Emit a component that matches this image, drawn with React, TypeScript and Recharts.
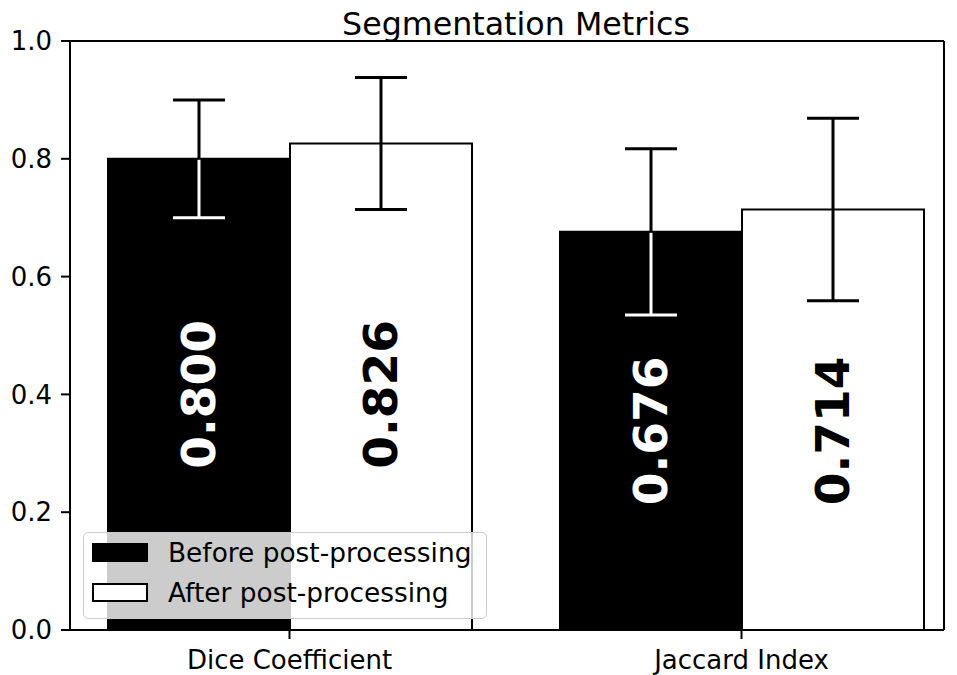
import React from "react";
import { BarChart, Bar, XAxis, YAxis, ErrorBar, LabelList } from "recharts";

const FONT = "'DejaVu Sans', sans-serif";

const categories = ["Dice Coefficient", "Jaccard Index"];
const beforeValues = [0.8, 0.676];
const afterValues = [0.826, 0.714];
const beforeErrors = [0.1, 0.141];
const afterErrors = [0.112, 0.155];
const yTicks = [0, 0.2, 0.4, 0.6, 0.8, 1.0];

const SERIES = [
  { key: "before", err: "beforeErr", errs: beforeErrors, name: "Before post-processing", fill: "#000000", text: "#ffffff" },
  { key: "after", err: "afterErr", errs: afterErrors, name: "After post-processing", fill: "#ffffff", text: "#000000" },
];

const data = categories.map((name, i) => ({
  name,
  before: beforeValues[i],
  after: afterValues[i],
  beforeErr: beforeErrors[i],
  afterErr: afterErrors[i],
}));

const spine = { stroke: "#000", strokeWidth: 2 };

// value text, centred on half the lower bar of the group; on a dark bar the
// part of the error bar that sits inside the bar is redrawn in white
const valueLabel = (s: (typeof SERIES)[number]) => (props: any) => {
  const { x, y, width, height, value, index } = props;
  const v = Number(value);
  const bottom = Number(y) + Number(height);
  const perUnit = Number(height) / v;
  const cx = Number(x) + Number(width) / 2;
  const groupMin = Math.min(beforeValues[index], afterValues[index]);
  const cy = bottom - perUnit * (groupMin / 2);
  const dark = s.fill === "#000000";
  const lowY = bottom - perUnit * (v - s.errs[index]);
  return (
    <g>
      {dark && (
        <g stroke="#fff" strokeWidth={3}>
          <line x1={cx} x2={cx} y1={Number(y) + 1} y2={lowY} />
          <line x1={cx - 26} x2={cx + 26} y1={lowY} y2={lowY} />
        </g>
      )}
      <text
        x={cx}
        y={cy}
        transform={`rotate(-90 ${cx} ${cy})`}
        textAnchor="middle"
        dominantBaseline="central"
        fill={s.text}
        fontSize={47}
        fontWeight="bold"
        fontFamily={FONT}
      >
        {v.toFixed(3)}
      </text>
    </g>
  );
};

export default function App() {
  return (
    <div
      style={{
        position: "absolute",
        left: 0,
        top: 0,
        width: 957,
        height: 675,
        overflow: "hidden",
        background: "#fff",
        fontFamily: FONT,
      }}
    >
      <div
        style={{
          position: "absolute",
          left: 316,
          top: 8,
          width: 400,
          textAlign: "center",
          fontSize: 31.7,
          lineHeight: "32px",
          color: "#000",
        }}
      >
        Segmentation Metrics
      </div>
      <BarChart
        width={957}
        height={675}
        data={data}
        margin={{ top: 40, right: 12, bottom: 0, left: 0 }}
        barGap={0}
        barCategoryGap={44.5}
      >
        <XAxis
          dataKey="name"
          height={45}
          interval={0}
          padding={{ left: -6.5, right: -23.5 }}
          tick={{ fontSize: 26, fill: "#000", fontFamily: FONT }}
          tickSize={9}
          tickMargin={12}
          axisLine={spine}
          tickLine={spine}
        />
        <XAxis xAxisId="top" orientation="top" dataKey="name" height={1} tick={false} tickLine={false} axisLine={spine} />
        <YAxis
          domain={[0, 1]}
          ticks={yTicks}
          width={70}
          tickFormatter={(v: number) => v.toFixed(1)}
          tick={{ fontSize: 26, fill: "#000", fontFamily: FONT }}
          tickSize={9}
          tickMargin={9}
          axisLine={spine}
          tickLine={spine}
        />
        <YAxis yAxisId="right" orientation="right" width={1} tick={false} tickLine={false} axisLine={spine} />
        {SERIES.map((s) => (
          <Bar
            key={s.key}
            dataKey={s.key}
            name={s.name}
            fill={s.fill}
            stroke="#000"
            strokeWidth={2}
            isAnimationActive={false}
          >
            <ErrorBar dataKey={s.err} width={26} strokeWidth={3} stroke="#000" direction="y" />
            <LabelList dataKey={s.key} content={valueLabel(s)} />
          </Bar>
        ))}
      </BarChart>
      <div
        style={{
          position: "absolute",
          left: 83,
          top: 532,
          width: 404,
          height: 87,
          boxSizing: "border-box",
          border: "1.5px solid #cccccc",
          borderRadius: 5,
          background: "rgba(255,255,255,0.8)",
        }}
      >
        {SERIES.map((s, i) => (
          <div
            key={s.key}
            style={{
              position: "absolute",
              left: 8,
              top: 9 + i * 40,
              height: 21,
              display: "flex",
              alignItems: "center",
              whiteSpace: "nowrap",
            }}
          >
            <div
              style={{
                width: 56,
                height: 19,
                boxSizing: "border-box",
                background: s.fill,
                border: "2px solid #000",
              }}
            />
            <span style={{ marginLeft: 20, fontSize: 26.4, lineHeight: "21px", color: "#000" }}>{s.name}</span>
          </div>
        ))}
      </div>
    </div>
  );
}
